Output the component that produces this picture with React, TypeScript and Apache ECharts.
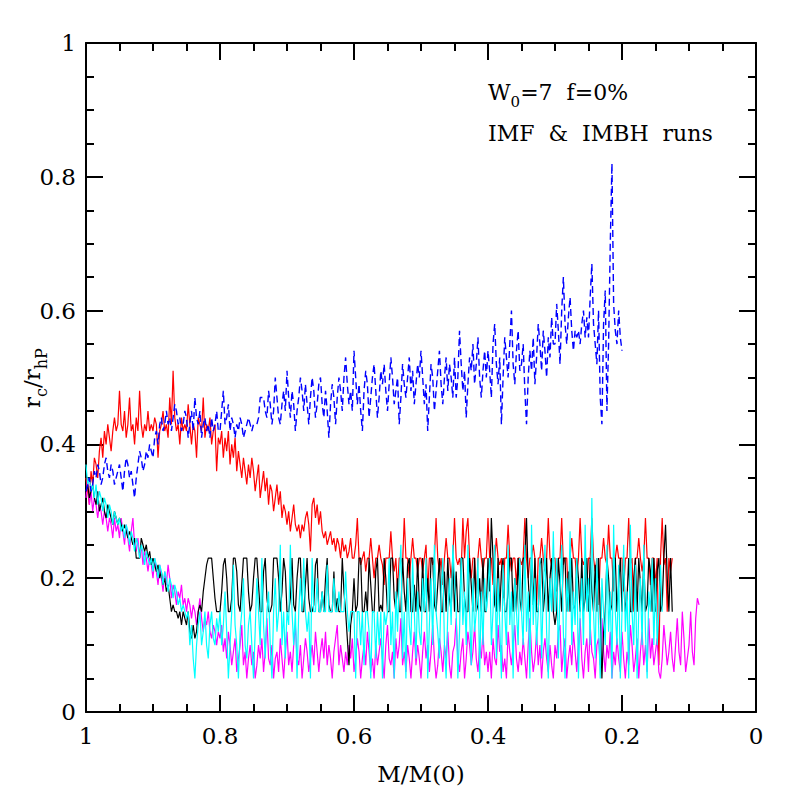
import React, { useEffect, useRef } from "react";
import * as echarts from "echarts";

// x = M/M(0), each series sampled from 1 downwards in steps of 0.0025
const X_START = 1;
const X_STEP = 0.0025;

const redVals = [
  0.35, 0.33, 0.31, 0.36, 0.34, 0.38, 0.37, 0.35, 0.39, 0.41, 0.38, 0.42, 0.40, 0.43, 0.41, 0.39, 0.42, 0.44, 0.42, 0.43,
  0.48, 0.43, 0.42, 0.45, 0.41, 0.43, 0.47, 0.42, 0.43, 0.40, 0.44, 0.42, 0.48, 0.43, 0.41, 0.43, 0.42, 0.45, 0.42, 0.43,
  0.42, 0.44, 0.43, 0.38, 0.42, 0.43, 0.45, 0.42, 0.43, 0.41, 0.47, 0.43, 0.51, 0.44, 0.42, 0.43, 0.40, 0.44, 0.42, 0.43,
  0.42, 0.46, 0.43, 0.40, 0.43, 0.42, 0.38, 0.44, 0.43, 0.42, 0.47, 0.41, 0.43, 0.42, 0.44, 0.40, 0.42, 0.43, 0.36, 0.41,
  0.40, 0.42, 0.38, 0.41, 0.39, 0.42, 0.37, 0.40, 0.38, 0.41, 0.36, 0.39, 0.37, 0.35, 0.38, 0.36, 0.34, 0.37, 0.35, 0.38,
  0.36, 0.33, 0.35, 0.37, 0.32, 0.34, 0.36, 0.33, 0.35, 0.31, 0.34, 0.33, 0.30, 0.32, 0.34, 0.31, 0.33, 0.29, 0.31, 0.30,
  0.28, 0.30, 0.27, 0.29, 0.31, 0.28, 0.27, 0.28, 0.26, 0.28, 0.27, 0.29, 0.30, 0.28, 0.24, 0.31, 0.32, 0.29, 0.31, 0.28,
  0.30, 0.27, 0.26, 0.27, 0.25, 0.26, 0.27, 0.25, 0.26, 0.24, 0.26, 0.25, 0.23, 0.26, 0.24, 0.25, 0.23, 0.24, 0.26, 0.23,
  0.23, 0.25, 0.29, 0.23, 0.22, 0.23, 0.24, 0.21, 0.23, 0.23, 0.26, 0.23, 0.20, 0.23, 0.23, 0.25, 0.23, 0.22, 0.19, 0.23,
  0.23, 0.23, 0.27, 0.23, 0.21, 0.23, 0.18, 0.23, 0.23, 0.22, 0.29, 0.23, 0.23, 0.20, 0.23, 0.26, 0.23, 0.23, 0.21, 0.23,
  0.23, 0.21, 0.23, 0.25, 0.18, 0.23, 0.23, 0.22, 0.23, 0.29, 0.23, 0.21, 0.23, 0.19, 0.23, 0.26, 0.23, 0.23, 0.20, 0.23,
  0.29, 0.23, 0.22, 0.23, 0.21, 0.29, 0.23, 0.27, 0.29, 0.23, 0.20, 0.23, 0.23, 0.17, 0.23, 0.26, 0.23, 0.21, 0.23, 0.23,
  0.29, 0.23, 0.23, 0.19, 0.23, 0.26, 0.23, 0.22, 0.23, 0.17, 0.23, 0.23, 0.28, 0.23, 0.21, 0.23, 0.23, 0.19, 0.23, 0.23,
  0.22, 0.23, 0.29, 0.23, 0.20, 0.23, 0.23, 0.25, 0.23, 0.16, 0.23, 0.23, 0.26, 0.23, 0.21, 0.23, 0.29, 0.23, 0.22, 0.23,
  0.23, 0.18, 0.23, 0.23, 0.29, 0.22, 0.23, 0.23, 0.17, 0.23, 0.26, 0.23, 0.23, 0.20, 0.23, 0.29, 0.23, 0.22, 0.23, 0.19,
  0.23, 0.23, 0.29, 0.23, 0.21, 0.23, 0.16, 0.23, 0.23, 0.26, 0.23, 0.22, 0.28, 0.23, 0.23, 0.18, 0.23, 0.25, 0.23, 0.23,
  0.23, 0.18, 0.23, 0.23, 0.29, 0.22, 0.23, 0.15, 0.23, 0.23, 0.26, 0.23, 0.21, 0.23, 0.29, 0.23, 0.23, 0.19, 0.23, 0.23,
  0.19, 0.23, 0.07, 0.23, 0.29, 0.22, 0.23, 0.15, 0.23, 0.21, 0.23,
];

const blackVals = [
  0.33, 0.34, 0.32, 0.33, 0.34, 0.32, 0.31, 0.33, 0.30, 0.31, 0.32, 0.30, 0.29, 0.31, 0.30, 0.29, 0.28, 0.30, 0.29, 0.28,
  0.29, 0.28, 0.27, 0.28, 0.27, 0.26, 0.27, 0.26, 0.25, 0.26, 0.23, 0.23, 0.23, 0.26, 0.25, 0.24, 0.25, 0.23, 0.24, 0.22,
  0.23, 0.22, 0.21, 0.22, 0.20, 0.21, 0.19, 0.20, 0.18, 0.19, 0.17, 0.15, 0.16, 0.15, 0.15, 0.14, 0.15, 0.13, 0.15, 0.14,
  0.13, 0.15, 0.12, 0.11, 0.13, 0.11, 0.12, 0.15, 0.16, 0.15, 0.18, 0.20, 0.22, 0.23, 0.23, 0.23, 0.20, 0.17, 0.15, 0.15,
  0.15, 0.18, 0.22, 0.23, 0.20, 0.15, 0.15, 0.17, 0.23, 0.23, 0.21, 0.16, 0.15, 0.19, 0.23, 0.23, 0.23, 0.18, 0.15, 0.16,
  0.20, 0.23, 0.23, 0.19, 0.15, 0.15, 0.21, 0.23, 0.17, 0.15, 0.15, 0.16, 0.23, 0.23, 0.23, 0.20, 0.15, 0.18, 0.23, 0.21,
  0.15, 0.15, 0.17, 0.23, 0.16, 0.15, 0.20, 0.23, 0.23, 0.15, 0.15, 0.19, 0.23, 0.17, 0.15, 0.15, 0.16, 0.22, 0.23, 0.15,
  0.15, 0.18, 0.15, 0.20, 0.23, 0.16, 0.15, 0.15, 0.21, 0.15, 0.17, 0.15, 0.15, 0.23, 0.18, 0.15, 0.11, 0.07, 0.13, 0.15,
  0.20, 0.15, 0.16, 0.23, 0.23, 0.15, 0.15, 0.18, 0.15, 0.23, 0.19, 0.15, 0.15, 0.21, 0.23, 0.15, 0.16, 0.15, 0.23, 0.20,
  0.15, 0.15, 0.23, 0.23, 0.17, 0.15, 0.20, 0.15, 0.15, 0.23, 0.18, 0.15, 0.22, 0.23, 0.15, 0.15, 0.19, 0.15, 0.23, 0.16,
  0.15, 0.23, 0.15, 0.15, 0.20, 0.15, 0.23, 0.23, 0.16, 0.15, 0.19, 0.23, 0.15, 0.15, 0.21, 0.15, 0.23, 0.17, 0.15, 0.23,
  0.15, 0.21, 0.15, 0.15, 0.23, 0.23, 0.17, 0.15, 0.15, 0.23, 0.19, 0.15, 0.23, 0.15, 0.16, 0.20, 0.15, 0.23, 0.15, 0.15,
  0.23, 0.18, 0.29, 0.23, 0.16, 0.15, 0.23, 0.15, 0.21, 0.23, 0.15, 0.15, 0.18, 0.23, 0.23, 0.15, 0.20, 0.15, 0.23, 0.17,
  0.15, 0.23, 0.23, 0.29, 0.20, 0.15, 0.23, 0.16, 0.23, 0.15, 0.15, 0.22, 0.23, 0.15, 0.18, 0.23, 0.15, 0.20, 0.23, 0.15,
  0.13, 0.15, 0.23, 0.19, 0.15, 0.23, 0.23, 0.15, 0.21, 0.15, 0.23, 0.16, 0.15, 0.23, 0.20, 0.15, 0.23, 0.15, 0.17, 0.23,
  0.15, 0.23, 0.18, 0.15, 0.22, 0.15, 0.23, 0.15, 0.05, 0.12, 0.15, 0.23, 0.20, 0.15, 0.16, 0.23, 0.23, 0.15, 0.19, 0.23,
  0.15, 0.22, 0.15, 0.17, 0.23, 0.15, 0.15, 0.20, 0.23, 0.15, 0.23, 0.19, 0.15, 0.23, 0.15, 0.16, 0.23, 0.21, 0.15, 0.23,
  0.15, 0.21, 0.23, 0.15, 0.16, 0.23, 0.28, 0.20, 0.15, 0.23, 0.15,
];

const cyanVals = [
  0.37, 0.34, 0.35, 0.33, 0.34, 0.32, 0.34, 0.31, 0.33, 0.32, 0.30, 0.32, 0.31, 0.29, 0.31, 0.30, 0.28, 0.30, 0.29, 0.28,
  0.29, 0.27, 0.28, 0.26, 0.28, 0.27, 0.25, 0.27, 0.26, 0.24, 0.26, 0.25, 0.23, 0.25, 0.24, 0.22, 0.24, 0.23, 0.22, 0.23,
  0.21, 0.23, 0.22, 0.20, 0.22, 0.21, 0.19, 0.21, 0.20, 0.18, 0.20, 0.19, 0.17, 0.19, 0.18, 0.16, 0.17, 0.15, 0.16, 0.15,
  0.14, 0.15, 0.10, 0.13, 0.08, 0.05, 0.10, 0.13, 0.15, 0.10, 0.12, 0.15, 0.10, 0.08, 0.13, 0.15, 0.11, 0.10, 0.14, 0.12,
  0.15, 0.10, 0.13, 0.18, 0.12, 0.05, 0.10, 0.15, 0.22, 0.13, 0.10, 0.05, 0.12, 0.15, 0.20, 0.10, 0.08, 0.13, 0.15, 0.10,
  0.05, 0.12, 0.20, 0.15, 0.10, 0.23, 0.13, 0.08, 0.15, 0.18, 0.10, 0.05, 0.15, 0.20, 0.12, 0.15, 0.25, 0.10, 0.15, 0.08,
  0.15, 0.13, 0.25, 0.15, 0.10, 0.15, 0.05, 0.15, 0.20, 0.15, 0.23, 0.15, 0.12, 0.15, 0.05, 0.23, 0.15, 0.15, 0.20, 0.15,
  0.15, 0.18, 0.15, 0.15, 0.22, 0.15, 0.15, 0.15, 0.20, 0.15, 0.15, 0.18, 0.15, 0.15, 0.15, 0.21, 0.15, 0.12, 0.15, 0.15,
  0.15, 0.05, 0.15, 0.15, 0.10, 0.15, 0.07, 0.15, 0.15, 0.12, 0.05, 0.15, 0.15, 0.08, 0.15, 0.10, 0.15, 0.05, 0.15, 0.13,
  0.15, 0.23, 0.10, 0.15, 0.05, 0.18, 0.12, 0.20, 0.25, 0.08, 0.15, 0.05, 0.20, 0.13, 0.10, 0.23, 0.15, 0.08, 0.18, 0.12,
  0.10, 0.20, 0.15, 0.23, 0.05, 0.13, 0.20, 0.10, 0.25, 0.15, 0.12, 0.08, 0.18, 0.23, 0.10, 0.05, 0.15, 0.20, 0.13, 0.25,
  0.20, 0.15, 0.05, 0.12, 0.23, 0.13, 0.18, 0.10, 0.25, 0.15, 0.07, 0.20, 0.12, 0.15, 0.23, 0.05, 0.18, 0.10, 0.20, 0.15,
  0.18, 0.23, 0.10, 0.15, 0.25, 0.08, 0.20, 0.13, 0.05, 0.22, 0.15, 0.10, 0.25, 0.13, 0.18, 0.05, 0.20, 0.15, 0.10, 0.23,
  0.15, 0.10, 0.25, 0.12, 0.18, 0.05, 0.28, 0.13, 0.20, 0.10, 0.15, 0.23, 0.08, 0.18, 0.25, 0.12, 0.05, 0.20, 0.15, 0.27,
  0.15, 0.23, 0.08, 0.18, 0.25, 0.12, 0.05, 0.20, 0.15, 0.27, 0.10, 0.18, 0.13, 0.23, 0.05, 0.15, 0.20, 0.10, 0.28, 0.15,
  0.20, 0.10, 0.32, 0.15, 0.08, 0.23, 0.13, 0.05, 0.20, 0.15, 0.10, 0.25, 0.12, 0.18, 0.05, 0.28, 0.15, 0.10, 0.22, 0.05,
  0.15, 0.25, 0.12, 0.18, 0.05, 0.28, 0.15, 0.10, 0.22, 0.05, 0.15, 0.20, 0.10, 0.25, 0.12, 0.05, 0.18, 0.15, 0.23, 0.10,
  0.20, 0.10, 0.15, 0.22, 0.15,
];

const magentaVals = [
  0.32, 0.35, 0.31, 0.33, 0.30, 0.32, 0.31, 0.29, 0.31, 0.30, 0.28, 0.30, 0.29, 0.27, 0.29, 0.28, 0.26, 0.29, 0.27, 0.28,
  0.26, 0.29, 0.27, 0.25, 0.28, 0.26, 0.24, 0.27, 0.29, 0.25, 0.24, 0.26, 0.23, 0.25, 0.22, 0.24, 0.23, 0.21, 0.23, 0.22,
  0.20, 0.23, 0.21, 0.19, 0.22, 0.20, 0.18, 0.21, 0.19, 0.22, 0.20, 0.17, 0.19, 0.18, 0.16, 0.18, 0.17, 0.19, 0.16, 0.17,
  0.15, 0.17, 0.16, 0.14, 0.16, 0.15, 0.13, 0.15, 0.17, 0.14, 0.12, 0.14, 0.13, 0.15, 0.12, 0.11, 0.13, 0.12, 0.10, 0.12,
  0.11, 0.13, 0.09, 0.11, 0.08, 0.12, 0.10, 0.07, 0.09, 0.11, 0.06, 0.08, 0.10, 0.13, 0.07, 0.09, 0.05, 0.08, 0.10, 0.07,
  0.09, 0.05, 0.07, 0.10, 0.08, 0.11, 0.06, 0.09, 0.14, 0.08, 0.07, 0.10, 0.05, 0.08, 0.09, 0.06, 0.11, 0.08, 0.05, 0.09,
  0.12, 0.07, 0.09, 0.06, 0.10, 0.13, 0.08, 0.07, 0.10, 0.05, 0.08, 0.11, 0.09, 0.06, 0.08, 0.10, 0.07, 0.12, 0.09, 0.06,
  0.09, 0.11, 0.08, 0.12, 0.07, 0.10, 0.08, 0.05, 0.09, 0.11, 0.13, 0.07, 0.10, 0.08, 0.06, 0.09, 0.07, 0.10, 0.08, 0.11,
  0.06, 0.08, 0.11, 0.09, 0.05, 0.08, 0.10, 0.07, 0.12, 0.09, 0.06, 0.08, 0.05, 0.10, 0.07, 0.09, 0.11, 0.08, 0.05, 0.10,
  0.13, 0.08, 0.07, 0.09, 0.05, 0.11, 0.08, 0.10, 0.14, 0.07, 0.09, 0.06, 0.10, 0.08, 0.05, 0.09, 0.12, 0.07, 0.10, 0.08,
  0.05, 0.09, 0.12, 0.08, 0.10, 0.06, 0.09, 0.13, 0.08, 0.05, 0.07, 0.11, 0.09, 0.06, 0.10, 0.08, 0.12, 0.07, 0.05, 0.09,
  0.10, 0.14, 0.08, 0.06, 0.09, 0.11, 0.05, 0.08, 0.12, 0.10, 0.07, 0.09, 0.13, 0.08, 0.06, 0.10, 0.08, 0.12, 0.07, 0.09,
  0.06, 0.09, 0.05, 0.11, 0.08, 0.07, 0.13, 0.09, 0.10, 0.06, 0.08, 0.05, 0.12, 0.09, 0.07, 0.10, 0.13, 0.08, 0.06, 0.09,
  0.07, 0.11, 0.08, 0.05, 0.10, 0.14, 0.09, 0.06, 0.08, 0.12, 0.07, 0.10, 0.05, 0.09, 0.11, 0.08, 0.06, 0.10, 0.07, 0.05,
  0.10, 0.08, 0.12, 0.13, 0.06, 0.09, 0.11, 0.05, 0.08, 0.10, 0.07, 0.12, 0.09, 0.06, 0.10, 0.14, 0.08, 0.05, 0.09, 0.11,
  0.06, 0.13, 0.09, 0.08, 0.05, 0.10, 0.11, 0.07, 0.14, 0.09, 0.06, 0.10, 0.08, 0.12, 0.05, 0.09, 0.07, 0.11, 0.08, 0.06,
  0.12, 0.08, 0.05, 0.09, 0.07, 0.13, 0.10, 0.06, 0.08, 0.11, 0.05, 0.09, 0.12, 0.07, 0.10, 0.06, 0.14, 0.08, 0.11, 0.07,
  0.09, 0.11, 0.06, 0.05, 0.08, 0.13, 0.10, 0.07, 0.09, 0.12, 0.08, 0.06, 0.10, 0.14, 0.09, 0.07, 0.15, 0.11, 0.06, 0.08,
  0.10, 0.15, 0.09, 0.07, 0.14, 0.17, 0.16,
];

const blueVals = [
  0.33, 0.34, 0.35, 0.33, 0.34, 0.36, 0.35, 0.37, 0.36, 0.34, 0.35, 0.37, 0.38, 0.36, 0.35, 0.37, 0.36, 0.34, 0.35, 0.36,
  0.37, 0.35, 0.33, 0.36, 0.38, 0.37, 0.35, 0.36, 0.34, 0.32, 0.35, 0.37, 0.39, 0.38, 0.36, 0.37, 0.39, 0.38, 0.40, 0.39,
  0.38, 0.41, 0.42, 0.40, 0.43, 0.44, 0.42, 0.43, 0.45, 0.43, 0.44, 0.42, 0.44, 0.46, 0.45, 0.43, 0.44, 0.42, 0.43, 0.45,
  0.44, 0.41, 0.43, 0.45, 0.42, 0.47, 0.44, 0.43, 0.45, 0.41, 0.43, 0.44, 0.42, 0.43, 0.41, 0.44, 0.42, 0.43, 0.45, 0.42,
  0.42, 0.45, 0.48, 0.43, 0.44, 0.46, 0.42, 0.44, 0.43, 0.41, 0.43, 0.42, 0.44, 0.43, 0.41, 0.42, 0.43, 0.44, 0.43, 0.42,
  0.43, 0.43, 0.43, 0.44, 0.47, 0.47, 0.47, 0.45, 0.44, 0.48, 0.46, 0.43, 0.45, 0.50, 0.47, 0.44, 0.43, 0.46, 0.48, 0.45,
  0.51, 0.47, 0.44, 0.48, 0.46, 0.42, 0.45, 0.47, 0.50, 0.48, 0.45, 0.49, 0.46, 0.43, 0.47, 0.50, 0.48, 0.44, 0.46, 0.49,
  0.50, 0.46, 0.44, 0.48, 0.45, 0.41, 0.46, 0.49, 0.47, 0.43, 0.47, 0.50, 0.48, 0.45, 0.50, 0.53, 0.49, 0.46, 0.48, 0.45,
  0.54, 0.50, 0.46, 0.49, 0.45, 0.42, 0.48, 0.51, 0.49, 0.44, 0.47, 0.50, 0.52, 0.48, 0.44, 0.47, 0.51, 0.49, 0.52, 0.48,
  0.45, 0.49, 0.53, 0.50, 0.46, 0.48, 0.50, 0.43, 0.47, 0.52, 0.49, 0.47, 0.50, 0.53, 0.48, 0.51, 0.46, 0.49, 0.52, 0.50,
  0.54, 0.50, 0.46, 0.49, 0.42, 0.47, 0.52, 0.50, 0.45, 0.48, 0.51, 0.54, 0.49, 0.46, 0.50, 0.53, 0.48, 0.52, 0.50, 0.47,
  0.53, 0.47, 0.50, 0.57, 0.52, 0.48, 0.51, 0.44, 0.49, 0.53, 0.51, 0.55, 0.49, 0.52, 0.56, 0.50, 0.47, 0.51, 0.54, 0.50,
  0.54, 0.51, 0.47, 0.55, 0.58, 0.52, 0.49, 0.53, 0.43, 0.50, 0.56, 0.53, 0.50, 0.55, 0.60, 0.52, 0.49, 0.54, 0.57, 0.51,
  0.52, 0.55, 0.48, 0.43, 0.50, 0.54, 0.51, 0.56, 0.49, 0.53, 0.58, 0.55, 0.51, 0.57, 0.54, 0.50, 0.56, 0.53, 0.59, 0.55,
  0.55, 0.61, 0.57, 0.52, 0.60, 0.65, 0.58, 0.55, 0.59, 0.62, 0.57, 0.54, 0.57, 0.56, 0.57, 0.55, 0.58, 0.60, 0.56, 0.59,
  0.56, 0.62, 0.67, 0.58, 0.55, 0.52, 0.60, 0.47, 0.43, 0.58, 0.63, 0.45, 0.55, 0.70, 0.82, 0.61, 0.57, 0.55, 0.60, 0.56,
  0.54,
];

const xTicks = [0, 0.2, 0.4, 0.6, 0.8, 1];

const FONT = "DejaVu Serif";

function toPairs(vals: number[]): number[][] {
  return vals.map((v, i) => [+(X_START - i * X_STEP).toFixed(4), v]);
}

function App() {
  const ref = useRef<HTMLDivElement>(null);
  useEffect(() => {
    if (!ref.current) return;
    const chart = echarts.init(ref.current, null, { renderer: "svg" });
    const axisCommon = {
      type: "value" as const,
      min: 0,
      max: 1,
      interval: 0.2,
      axisLine: { show: true, onZero: false, lineStyle: { color: "#000", width: 2 } },
      axisTick: { show: true, inside: true, length: 17, lineStyle: { color: "#000", width: 2 } },
      minorTick: { show: true, splitNumber: 4, length: 8, lineStyle: { color: "#000", width: 2 } },
      splitLine: { show: false },
      minorSplitLine: { show: false },
    };
    const labelStyle = { fontFamily: FONT, fontSize: 23, color: "#000" };
    const subRich = {
      n: { fontFamily: FONT, fontSize: 22, fill: "#000", lineHeight: 34, verticalAlign: "middle" },
      s: { fontFamily: FONT, fontSize: 15, fill: "#000", lineHeight: 34, verticalAlign: "bottom" },
    };
    const yNameRich = {
      n: { fontFamily: FONT, fontSize: 23, fill: "#000", lineHeight: 34, verticalAlign: "middle" },
      s: { fontFamily: FONT, fontSize: 16, fill: "#000", lineHeight: 34, verticalAlign: "bottom" },
    };
    const line = (name: string, vals: number[], color: string, extra: any = {}) => ({
      name,
      type: "line",
      data: toPairs(vals),
      symbol: "none",
      showSymbol: false,
      lineStyle: { color, width: 1.2, ...extra },
      itemStyle: { color },
      xAxisIndex: 0,
      yAxisIndex: 0,
      silent: true,
    });
    chart.setOption({
      animation: false,
      backgroundColor: "#fff",
      grid: {
        left: 86,
        right: 41,
        top: 43,
        bottom: 85,
        containLabel: false,
        outerBoundsMode: "none",
      },
      xAxis: [
        {
          ...axisCommon,
          position: "bottom",
          inverse: true,
          axisLabel: { ...labelStyle, margin: 12, customValues: xTicks },
          name: "M/M(0)",
          nameLocation: "middle",
          nameGap: 50,
          nameTextStyle: { fontFamily: FONT, fontSize: 23, color: "#000" },
        },
        {
          ...axisCommon,
          position: "top",
          inverse: true,
          axisLabel: { show: false },
        },
      ],
      yAxis: [
        {
          ...axisCommon,
          position: "left",
          axisLabel: { ...labelStyle, margin: 10 },
        },
        {
          ...axisCommon,
          position: "right",
          axisLabel: { show: false },
        },
      ],
      graphic: [
        {
          type: "text",
          x: 32,
          y: 378,
          rotation: Math.PI / 2,
          style: {
            text: "{n|r}{s|c}{n|/r}{s|hP}",
            fill: "#000",
            align: "center",
            verticalAlign: "middle",
            rich: yNameRich,
          },
        },
        {
          type: "text",
          left: 488,
          top: 81,
          style: {
            text: "{n|W}{s|0}{n|=7  f=0%}",
            fill: "#000",
            rich: subRich,
          },
        },
        {
          type: "text",
          left: 488,
          top: 122,
          style: {
            text: "IMF  &  IMBH  runs",
            fill: "#000",
            font: `22px "${FONT}"`,
          },
        },
      ],
      series: [
        line("IMF red", redVals, "#ff0000"),
        line("IMF magenta", magentaVals, "#ff00ff"),
        line("IMBH black", blackVals, "#000000"),
        line("IMF cyan", cyanVals, "#00ffff"),
        line("IMBH blue", blueVals, "#0000ff", { type: [7, 4], width: 1.4 }),
      ],
    });
    return () => chart.dispose();
  }, []);
  return (
    <div
      ref={ref}
      style={{ position: "absolute", left: 0, top: 0, width: 797, height: 797 }}
    />
  );
}

export default App;
